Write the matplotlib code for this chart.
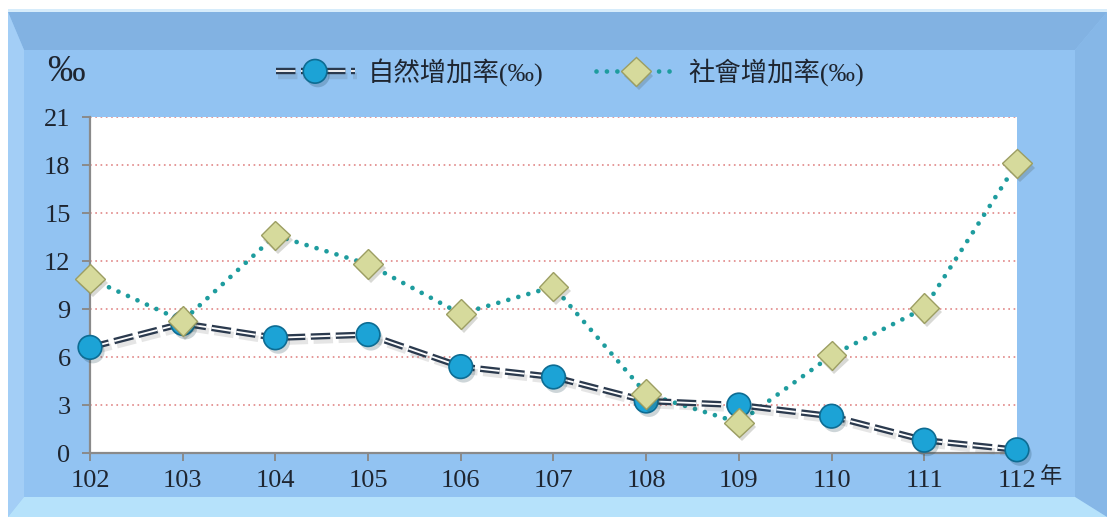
import matplotlib.pyplot as plt
from matplotlib.patches import Polygon
from matplotlib.legend_handler import HandlerTuple
from matplotlib import patheffects as pe

# 年度與數據
years = [102, 103, 104, 105, 106, 107, 108, 109, 110, 111, 112]
natural = [6.6, 8.1, 7.2, 7.4, 5.4, 4.75, 3.25, 3.0, 2.3, 0.8, 0.2]
social = [10.9, 8.25, 13.6, 11.8, 8.7, 10.4, 3.7, 1.9, 6.1, 9.05, 18.1]
yticks = [0, 3, 6, 9, 12, 15, 18, 21]
label_nat = '自然增加率(‰)'
label_soc = '社會增加率(‰)'

plt.rcParams['font.family'] = ['Liberation Serif', 'Noto Sans CJK TC']
plt.rcParams['lines.scale_dashes'] = False

W, H = 1107, 517
fig = plt.figure(figsize=(W / 100, H / 100), dpi=100)
fig.patch.set_facecolor('white')

# 背景的藍色斜角框
bg = fig.add_axes([0, 0, 1, 1], zorder=-5)
bg.set_xlim(0, W)
bg.set_ylim(H, 0)
bg.axis('off')
ox0, oy0, ox1, oy1 = 8, 12, W, H
ix0, iy0, ix1, iy1 = 24, 50, 1075, 497
bg.add_patch(Polygon([(ox0, oy0), (ox1, oy0), (ox1, oy1), (ox0, oy1)], color='#92C3F2', lw=0))
bg.add_patch(Polygon([(ox0, oy0), (ox1, oy0), (ix1, iy0), (ix0, iy0)], color='#82B2E2', lw=0))
bg.add_patch(Polygon([(ox0, oy0), (ix0, iy0), (ix0, iy1), (ox0, oy1)], color='#A3CEF6', lw=0))
bg.add_patch(Polygon([(ox1, oy0), (ox1, oy1), (ix1, iy1), (ix1, iy0)], color='#86B7E7', lw=0))
bg.add_patch(Polygon([(ox0, oy1), (ix0, iy1), (ix1, iy1), (ox1, oy1)], color='#B6E2FB', lw=0))
bg.add_patch(Polygon([(ox0, 9), (ox1, 9), (ox1, oy0), (ox0, oy0)], color='#D6ECFB', lw=0))

ax = fig.add_axes([90 / W, 1 - 453 / H, (1017 - 90) / W, (453 - 117) / H])
ax.set_facecolor('white')
ax.set_xlim(102, 112)
ax.set_ylim(0, 21)

for y in yticks[1:]:
    ax.axhline(y, color='#E39090', lw=1.3, linestyle=(0, (1.2, 2.6)), zorder=1)

shadow = [pe.SimpleLineShadow(offset=(2, -3), shadow_color='#555555', alpha=0.15), pe.Normal()]
mshadow = [pe.SimplePatchShadow(offset=(2, -3), alpha=0.2), pe.Normal()]

# 自然增加率 - 雙線虛線
nat_dark, = ax.plot(years, natural, color='#2B3A4E', lw=4.6, linestyle=(0, (14, 4)),
                    zorder=3, clip_on=False, path_effects=shadow)
nat_white, = ax.plot(years, natural, color='white', lw=1.3, linestyle=(0, (14, 4)),
                     zorder=3.1, clip_on=False)
nat_mark, = ax.plot(years, natural, linestyle='none', marker='o', markersize=17,
                    markerfacecolor='#1CA3D6', markeredgecolor='#0D6C93', markeredgewidth=1.2,
                    zorder=5, clip_on=False, path_effects=mshadow)

# 社會增加率 - 點線
soc_line, = ax.plot(years, social, color='#1E9C9E', lw=3.4, linestyle=(0, (0.01, 7.5)),
                    dash_capstyle='round', zorder=2, clip_on=False)
soc_mark, = ax.plot(years, social, linestyle='none', marker='D', markersize=15,
                    markerfacecolor='#D6DA9C', markeredgecolor='#9C9E62', markeredgewidth=1.0,
                    zorder=6, clip_on=False, path_effects=mshadow)

ax.set_xticks(years)
ax.set_xticklabels([str(y) for y in years])
ax.set_yticks(yticks)
for s in ['top', 'right']:
    ax.spines[s].set_visible(False)
for s in ['left', 'bottom']:
    ax.spines[s].set_color('#8A8A8A')
    ax.spines[s].set_linewidth(1.6)
ax.tick_params(axis='both', colors='#8A8A8A', width=1.4, length=6, direction='out',
               labelcolor='#1E2530', labelsize=19)
ax.tick_params(axis='x', pad=6)
ax.tick_params(axis='y', pad=8)

fig.text(1040 / W, 1 - 478 / H, '年', fontsize=16, color='#1E2530', ha='left', va='center')
fig.text(66 / W, 1 - 72 / H, '‰', fontsize=27, color='#1E2530', ha='center', va='center')

fig.legend([(nat_dark, nat_white, nat_mark), (soc_line, soc_mark)],
           [label_nat, label_soc], handler_map={tuple: HandlerTuple(ndivide=1)},
           loc='center', bbox_to_anchor=(570 / W, 1 - 72 / H), ncol=2, frameon=False,
           fontsize=19, handlelength=3.0, columnspacing=2.0, handletextpad=0.5,
           labelcolor='#1E2530')

fig.savefig('out.png', dpi=100)
